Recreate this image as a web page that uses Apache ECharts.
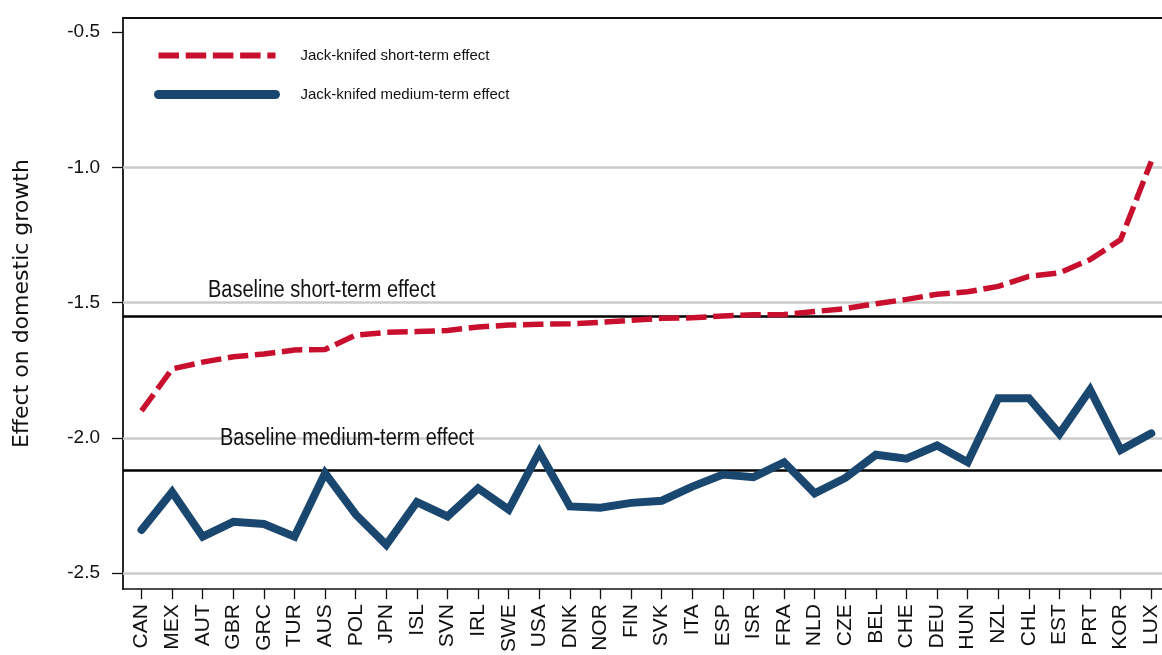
<!DOCTYPE html>
<html>
<head>
<meta charset="utf-8">
<script src="https://cdn.jsdelivr.net/npm/echarts@6/dist/echarts.min.js"></script>
<style>
  html, body { margin: 0; padding: 0; background: #ffffff; }
  #chart { width: 1162px; height: 655px; }
</style>
</head>
<body>
<div id="chart"></div>
<script>
// Countries, ordered by the jack-knifed short-term effect
const countries = ['CAN', 'MEX', 'AUT', 'GBR', 'GRC', 'TUR', 'AUS', 'POL', 'JPN', 'ISL', 'SVN', 'IRL',
  'SWE', 'USA', 'DNK', 'NOR', 'FIN', 'SVK', 'ITA', 'ESP', 'ISR', 'FRA', 'NLD', 'CZE', 'BEL', 'CHE',
  'DEU', 'HUN', 'NZL', 'CHL', 'EST', 'PRT', 'KOR', 'LUX'];

// Jack-knifed short-term effect (each country left out in turn)
const shortTerm = [-1.900, -1.745, -1.720, -1.700, -1.690, -1.675, -1.673, -1.620, -1.610, -1.607, -1.603, -1.590,
  -1.583, -1.580, -1.578, -1.573, -1.565, -1.558, -1.556, -1.549, -1.545, -1.544, -1.533, -1.522, -1.504, -1.488,
  -1.469, -1.460, -1.440, -1.403, -1.390, -1.341, -1.267, -0.978];

// Jack-knifed medium-term effect
const mediumTerm = [-2.340, -2.200, -2.365, -2.310, -2.318, -2.365, -2.130, -2.283, -2.395, -2.237, -2.290, -2.186,
  -2.265, -2.052, -2.253, -2.258, -2.240, -2.232, -2.180, -2.135, -2.145, -2.090, -2.205, -2.148, -2.062, -2.077,
  -2.028, -2.090, -1.853, -1.853, -1.985, -1.822, -2.045, -1.983];

// Full-sample estimates
const baselineShort = -1.551;
const baselineMedium = -2.117;

// Value axis ticks and the horizontal reference lines
const yTicks = [-2.5, -2.0, -1.5, -1.0, -0.5];
const gridValues = [-2.5, -2.0, -1.5, -1.0];

const seriesNames = ['Jack-knifed short-term effect', 'Jack-knifed medium-term effect'];
const baselineLabels = ['Baseline short-term effect', 'Baseline medium-term effect'];

const plainFont = "'Liberation Sans', Arial, sans-serif";

const RED = '#c8102e';
const NAVY = '#1a476f';
const shortDash = [20.5, 6.7];

const categoryIndex = countries.map((_, i) => i);
const toPairs = (values) => values.map((v, i) => [i, v]);

const chart = echarts.init(document.getElementById('chart'), null, { renderer: 'canvas' });

const option = {
  animation: false,
  backgroundColor: '#ffffff',
  grid: { left: 123, top: 18, right: 0, bottom: 65, containLabel: false },
  legend: {
    orient: 'vertical',
    left: 154,
    top: 48,
    padding: 0,
    itemWidth: 117,
    itemHeight: 14,
    itemGap: 24,
    itemStyle: { opacity: 0 },
    textStyle: { fontFamily: plainFont, fontSize: 15, color: '#111111', padding: [0, 0, 0, 20] },
    data: [
      { name: seriesNames[0], lineStyle: { color: RED, width: 6, type: shortDash, cap: 'butt' } },
      { name: seriesNames[1], lineStyle: { color: NAVY, width: 9, type: 'solid', cap: 'round' } }
    ],
    selectedMode: false
  },
  xAxis: [
    {
      type: 'value',
      min: -0.605,
      max: 33.35,
      splitLine: { show: false },
      axisLine: { show: true, onZero: false, lineStyle: { color: '#111111', width: 1.5 } },
      axisTick: { show: true, length: 10, customValues: categoryIndex, lineStyle: { color: '#111111', width: 1.3 } },
      axisLabel: {
        customValues: categoryIndex,
        rotate: 90,
        margin: 15,
        fontFamily: plainFont,
        fontSize: 21,
        color: '#111111',
        formatter: (v) => countries[Math.round(v)] || ''
      }
    },
    {
      // top frame line
      type: 'value',
      position: 'top',
      min: -0.605,
      max: 33.35,
      splitLine: { show: false },
      axisLine: { show: true, onZero: false, lineStyle: { color: '#111111', width: 2 } },
      axisTick: { show: false },
      axisLabel: { show: false }
    }
  ],
  yAxis: {
    type: 'value',
    min: -2.559,
    max: -0.448,
    name: 'Effect on domestic growth',
    nameLocation: 'middle',
    nameGap: 90,
    nameRotate: 90,
    nameTextStyle: { fontFamily: "'DejaVu Sans', sans-serif", fontSize: 22, color: '#111111' },
    splitLine: { show: false },
    axisLine: { show: true, onZero: false, lineStyle: { color: '#111111', width: 1.8 } },
    axisTick: { show: true, length: 11, customValues: yTicks, lineStyle: { color: '#111111', width: 1.3 } },
    axisLabel: {
      customValues: yTicks,
      margin: 23,
      fontFamily: plainFont,
      fontSize: 19,
      color: '#111111',
      formatter: (v) => v.toFixed(1)
    }
  },
  series: [
    {
      // reference lines: grey gridlines and the two black baselines
      type: 'line',
      data: [],
      z: 1,
      silent: true,
      markLine: {
        z: 1,
        silent: true,
        symbol: 'none',
        label: { show: false },
        emphasis: { disabled: true },
        data: gridValues.map((v) => ({ yAxis: v, lineStyle: { color: '#cbcbcb', width: 2.6, type: 'solid' } }))
          .concat([
            { yAxis: baselineShort, lineStyle: { color: '#000000', width: 2.6, type: 'solid' } },
            { yAxis: baselineMedium, lineStyle: { color: '#000000', width: 2.6, type: 'solid' } }
          ])
      }
    },
    {
      name: seriesNames[0],
      type: 'line',
      z: 10,
      symbol: 'none',
      data: toPairs(shortTerm),
      lineStyle: { color: RED, width: 5.5, type: shortDash, cap: 'butt', join: 'miter' },
      itemStyle: { color: RED }
    },
    {
      name: seriesNames[1],
      type: 'line',
      z: 10,
      symbol: 'none',
      data: toPairs(mediumTerm),
      lineStyle: { color: NAVY, width: 8, type: 'solid', cap: 'round', join: 'miter' },
      itemStyle: { color: NAVY }
    }
  ]
};

chart.setOption(option);

// Baseline captions sit just above their lines
const yShort = chart.convertToPixel({ yAxisIndex: 0 }, baselineShort);
const yMedium = chart.convertToPixel({ yAxisIndex: 0 }, baselineMedium);
chart.setOption({
  graphic: [
    {
      type: 'text', silent: true, z: 20, x: 208, y: yShort - 26, scaleY: 1.15,
      style: { text: baselineLabels[0], x: 0, y: 0, font: '20px ' + plainFont, fill: '#111111', verticalAlign: 'middle' }
    },
    {
      type: 'text', silent: true, z: 20, x: 220, y: yMedium - 31, scaleY: 1.15,
      style: { text: baselineLabels[1], x: 0, y: 0, font: '20px ' + plainFont, fill: '#111111', verticalAlign: 'middle' }
    }
  ]
});
</script>
</body>
</html>
